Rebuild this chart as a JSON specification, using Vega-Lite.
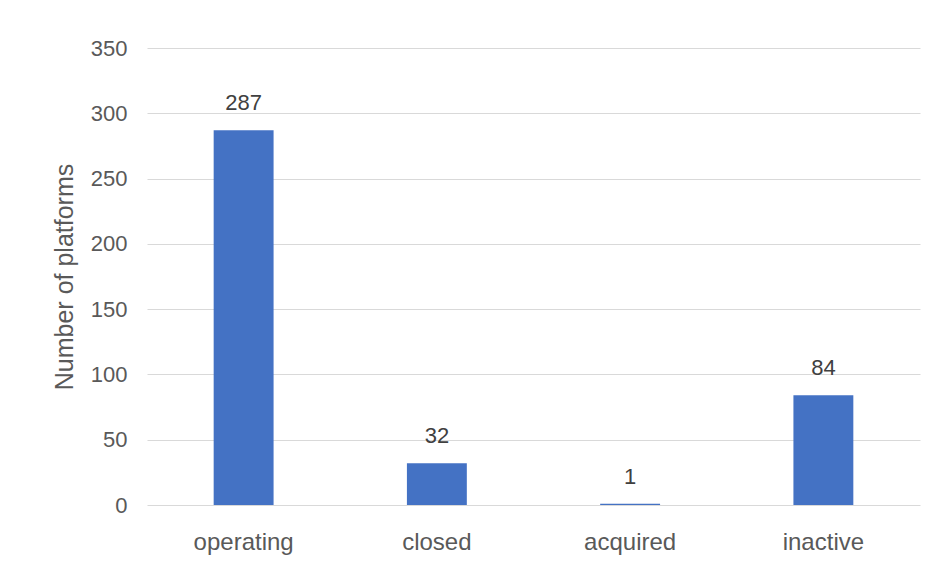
{
  "$schema": "https://vega.github.io/schema/vega-lite/v6.json",
  "autosize": "none",
  "width": 773,
  "height": 457,
  "padding": {"left": 147, "top": 48, "right": 20, "bottom": 71},
  "background": "white",
  "config": {
    "view": {"stroke": null},
    "font": "Liberation Sans",
    "axis": {"labelFont": "Liberation Sans", "titleFont": "Liberation Sans"}
  },
  "data": {
    "values": [
      {"status": "operating", "count": 287},
      {"status": "closed", "count": 32},
      {"status": "acquired", "count": 1},
      {"status": "inactive", "count": 84}
    ]
  },
  "encoding": {
    "x": {
      "field": "status",
      "type": "nominal",
      "sort": null,
      "scale": {"paddingInner": 0.69, "paddingOuter": 0.345},
      "axis": {
        "title": null,
        "labelAngle": 0,
        "labelFontSize": 24,
        "labelColor": "#595959",
        "labelPadding": 25,
        "ticks": false,
        "domain": false,
        "grid": false
      }
    },
    "y": {
      "field": "count",
      "type": "quantitative",
      "scale": {"domain": [0, 350], "nice": false},
      "axis": {
        "title": "Number of platforms",
        "titleFontSize": 25,
        "titleFontWeight": "normal",
        "titleColor": "#595959",
        "titlePadding": 13,
        "values": [0, 50, 100, 150, 200, 250, 300, 350],
        "labelFontSize": 22,
        "labelColor": "#595959",
        "labelPadding": 20,
        "ticks": false,
        "domain": false,
        "grid": true,
        "gridColor": "#d9d9d9",
        "gridWidth": 1.2
      }
    }
  },
  "layer": [
    {"mark": {"type": "bar", "color": "#4472c4"}},
    {
      "mark": {"type": "text", "baseline": "alphabetic", "dy": -20, "fontSize": 22, "color": "#404040"},
      "encoding": {"text": {"field": "count", "type": "quantitative"}}
    }
  ]
}
